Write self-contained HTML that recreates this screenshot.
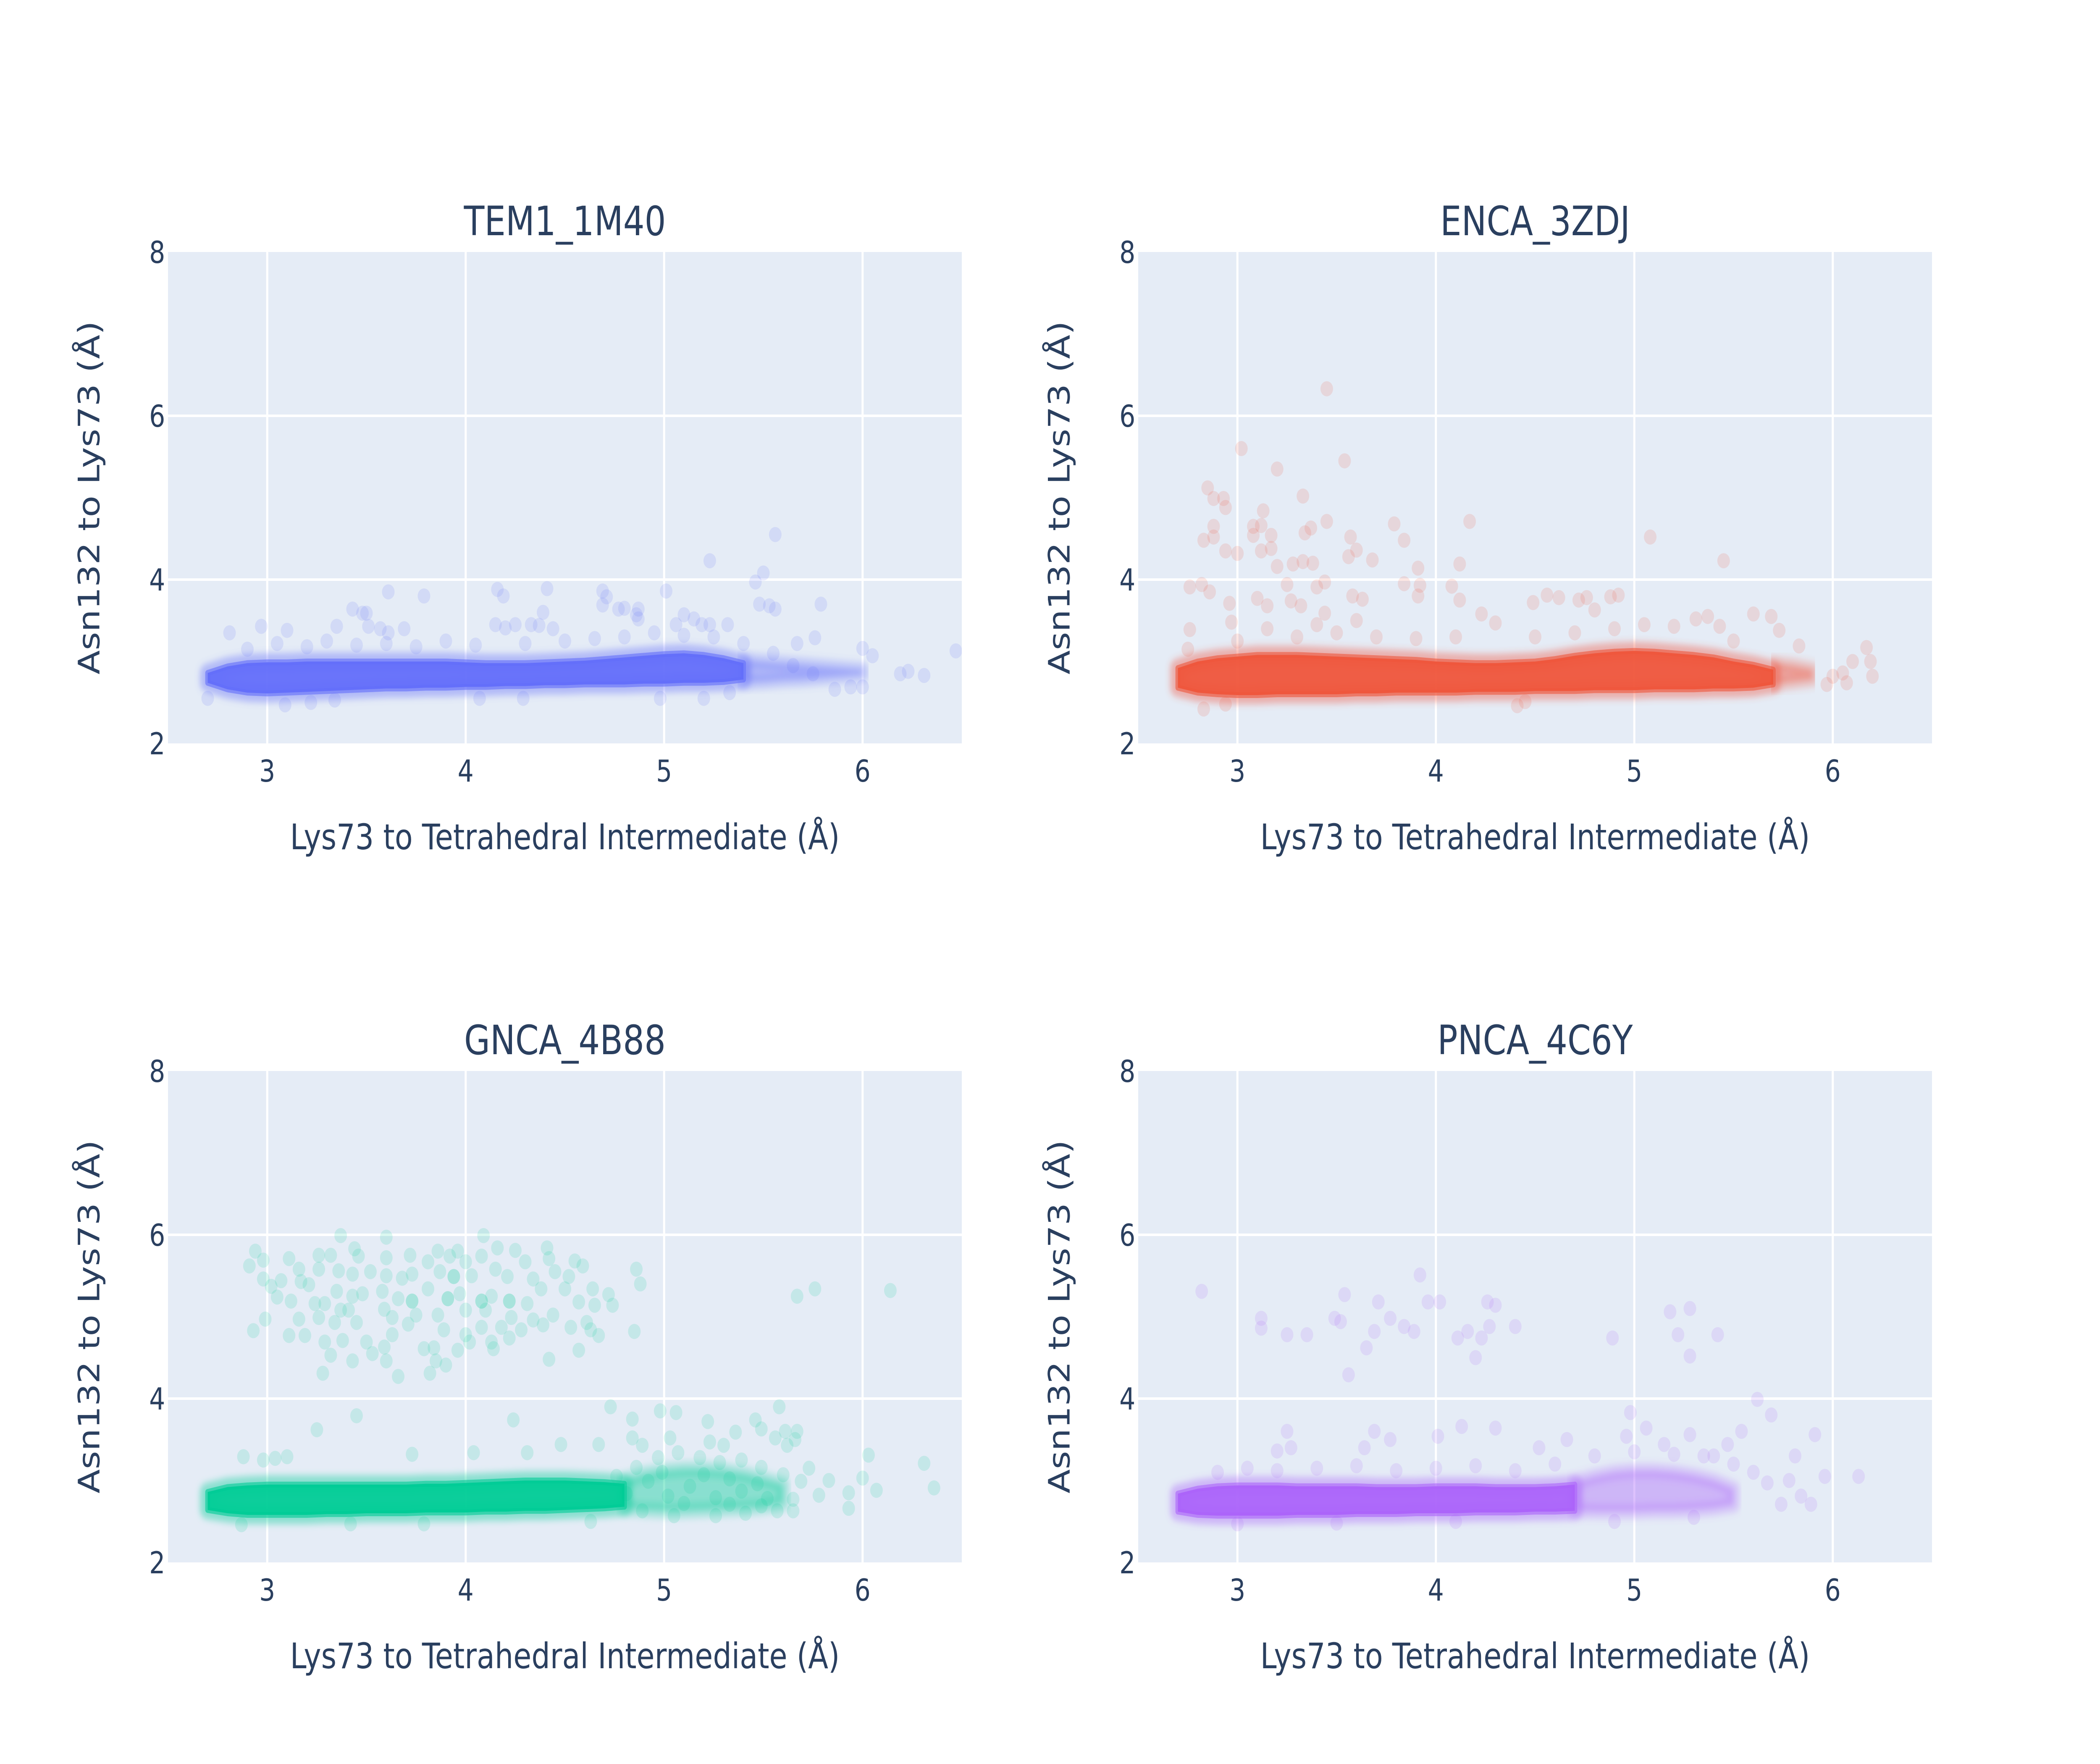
<!DOCTYPE html>
<html>
<head>
<meta charset="utf-8">
<style>
html,body{margin:0;padding:0;background:#fff;width:100%;height:100%;overflow:hidden;}
svg{display:block;width:100vw;height:100vh;}
text{font-family:"DejaVu Sans","Liberation Sans",sans-serif;fill:#2a3f5f;}
</style>
</head>
<body>
<svg id="chart" viewBox="0 0 6000 4200" preserveAspectRatio="none" xmlns="http://www.w3.org/2000/svg">
<defs>
<filter id="soft" x="-5%" y="-50%" width="110%" height="200%"><feGaussianBlur stdDeviation="8"/></filter>
</defs>
<rect x="0" y="0" width="6000" height="4200" fill="#ffffff"/>
</svg>
<script>
// ---------- shared axis data ----------
const xTickValues = [3, 4, 5, 6];
const yTickValues = [2, 4, 6, 8];
const xRange = [2.5, 6.5];
const yRange = [2, 8];
const panelTitles = ["TEM1_1M40", "ENCA_3ZDJ", "GNCA_4B88", "PNCA_4C6Y"];
const xAxisTitle = "Lys73 to Tetrahedral Intermediate (Å)";
const yAxisTitle = "Asn132 to Lys73 (Å)";

// ---------- TEM1_1M40 ----------
const tem1BandX = [2.7,2.8,2.9,3.0,3.1,3.2,3.3,3.4,3.5,3.6,3.7,3.8,3.9,4.0,4.1,4.2,4.3,4.4,4.5,4.6,4.7,4.8,4.9,5.0,5.1,5.2,5.3,5.4];
const tem1BandLow = [2.74,2.66,2.62,2.61,2.62,2.63,2.64,2.65,2.66,2.67,2.67,2.68,2.68,2.69,2.69,2.70,2.70,2.71,2.71,2.72,2.72,2.72,2.73,2.73,2.74,2.74,2.75,2.78];
const tem1BandHigh = [2.86,2.94,2.98,2.99,2.99,3.0,3.0,3.0,3.0,3.0,3.0,3.0,3.0,2.99,2.98,2.98,2.98,2.99,3.0,3.01,3.03,3.05,3.07,3.09,3.1,3.08,3.04,2.98];
const tem1TailX = [5.4,5.5,5.6,5.7,5.8,5.9,6.0];
const tem1TailLow = [2.74,2.75,2.77,2.78,2.8,2.82,2.84];
const tem1TailHigh = [3.02,3.0,2.98,2.96,2.94,2.92,2.9];
const tem1X = [5.56,5.23,5.50,5.46,3.61,3.79,4.16,4.19,4.41,4.69,4.71,5.01,5.48,5.53,5.56,5.79,3.43,3.48,3.50,4.39,4.69,4.77,4.80,4.87,6.47,6.31,6.23,6.19,6.0,6.05,6.0,5.94,5.86,2.81,2.97,3.1,3.35,3.51,3.57,3.61,3.69,4.15,4.2,4.25,4.33,4.37,4.44,4.86,4.87,5.06,5.1,5.15,5.19,5.23,5.32,5.67,5.76,2.70,3.09,3.22,3.34,4.07,4.29,4.98,5.2,5.33,2.9,3.05,3.2,3.3,3.45,3.6,3.75,3.9,4.05,4.3,4.5,4.65,4.8,4.95,5.1,5.25,5.4,5.55,5.65,5.75];
const tem1Y = [4.55,4.23,4.08,3.97,3.85,3.80,3.88,3.80,3.89,3.86,3.79,3.86,3.70,3.68,3.64,3.70,3.64,3.59,3.59,3.60,3.69,3.64,3.65,3.64,3.13,2.83,2.88,2.85,3.16,3.07,2.69,2.69,2.66,3.35,3.43,3.38,3.43,3.43,3.40,3.35,3.40,3.45,3.41,3.45,3.45,3.44,3.40,3.57,3.52,3.45,3.57,3.52,3.45,3.45,3.45,3.22,3.29,2.55,2.47,2.50,2.53,2.55,2.55,2.55,2.55,2.62,3.15,3.22,3.18,3.25,3.2,3.22,3.18,3.25,3.2,3.22,3.25,3.28,3.3,3.35,3.32,3.3,3.22,3.1,2.95,2.85];

// ---------- ENCA_3ZDJ ----------
const encaBandX = [2.7,2.8,2.9,3.0,3.1,3.2,3.3,3.4,3.5,3.6,3.7,3.8,3.9,4.0,4.1,4.2,4.3,4.4,4.5,4.6,4.7,4.8,4.9,5.0,5.1,5.2,5.3,5.4,5.5,5.6,5.7];
const encaBandLow = [2.68,2.62,2.6,2.59,2.59,2.6,2.6,2.6,2.6,2.61,2.61,2.62,2.62,2.62,2.62,2.63,2.63,2.63,2.64,2.64,2.64,2.65,2.65,2.65,2.66,2.66,2.66,2.67,2.67,2.68,2.72];
const encaBandHigh = [2.92,3.0,3.04,3.06,3.08,3.08,3.08,3.07,3.06,3.05,3.04,3.03,3.02,3.0,2.99,2.98,2.98,2.99,3.0,3.03,3.07,3.1,3.12,3.13,3.12,3.1,3.08,3.05,3.0,2.96,2.9];
const encaTailX = [5.7,5.8,5.9];
const encaTailLow = [2.72,2.75,2.78];
const encaTailHigh = [2.98,2.95,2.9];
const encaX = [3.45,3.02,3.54,3.20,2.85,2.88,2.93,2.94,3.33,3.13,2.88,3.08,3.12,3.45,3.79,4.17,2.83,2.88,3.08,3.17,3.34,3.37,3.57,3.84,5.08,5.45,2.94,3.0,3.12,3.17,3.6,3.56,3.68,4.12,3.91,4.08,4.12,3.92,3.91,3.84,2.76,2.82,2.86,3.2,3.28,3.33,3.38,3.25,3.4,3.44,3.58,3.63,3.10,3.15,3.27,3.32,3.44,2.96,2.97,2.76,4.49,4.56,4.62,4.72,4.76,4.88,4.92,4.8,5.6,5.69,5.73,5.83,6.17,6.19,6.2,6.1,6.07,5.97,6.05,6.0,4.23,4.3,5.37,5.43,5.2,5.31,4.41,4.45,2.83,2.94,3.3,3.5,3.7,3.9,4.1,4.5,4.7,4.9,5.05,5.5,2.75,3.0,3.15,3.6,3.4];
const encaY = [6.33,5.6,5.45,5.35,5.12,4.99,4.99,4.88,5.02,4.84,4.65,4.65,4.66,4.71,4.68,4.71,4.48,4.52,4.54,4.54,4.57,4.63,4.52,4.48,4.52,4.23,4.35,4.32,4.35,4.38,4.36,4.28,4.24,4.19,4.14,3.92,3.75,3.93,3.80,3.95,3.91,3.94,3.85,4.16,4.19,4.22,4.20,3.94,3.91,3.97,3.80,3.76,3.77,3.68,3.74,3.68,3.59,3.71,3.48,3.39,3.72,3.81,3.78,3.75,3.78,3.79,3.81,3.63,3.58,3.55,3.38,3.19,3.17,3.0,2.82,3.0,2.74,2.72,2.86,2.82,3.58,3.47,3.55,3.43,3.43,3.52,2.46,2.51,2.42,2.48,3.3,3.35,3.3,3.28,3.3,3.3,3.35,3.4,3.45,3.25,3.15,3.25,3.4,3.5,3.45];

// ---------- GNCA_4B88 ----------
const gncaBandX = [2.7,2.8,2.9,3.0,3.1,3.2,3.3,3.4,3.5,3.6,3.7,3.8,3.9,4.0,4.1,4.2,4.3,4.4,4.5,4.6,4.7,4.8];
const gncaBandLow = [2.64,2.6,2.58,2.58,2.58,2.58,2.59,2.59,2.6,2.6,2.6,2.61,2.61,2.61,2.62,2.62,2.63,2.63,2.64,2.65,2.66,2.68];
const gncaBandHigh = [2.86,2.92,2.94,2.95,2.95,2.95,2.95,2.95,2.95,2.95,2.95,2.96,2.96,2.97,2.98,2.99,3.0,3.0,3.0,2.99,2.98,2.96];
const gncaTailX = [4.8,4.9,5.0,5.1,5.2,5.3,5.4,5.5,5.6];
const gncaTailLow = [2.66,2.64,2.63,2.63,2.64,2.65,2.66,2.68,2.72];
const gncaTailHigh = [3.0,3.08,3.12,3.14,3.14,3.12,3.08,3.02,2.95];
const gncaX = [3.37,3.60,4.09,2.94,2.91,2.98,3.11,3.26,3.32,3.44,3.46,3.60,3.72,3.81,3.86,3.92,3.96,4.0,4.08,4.16,4.25,4.30,4.41,4.42,4.55,4.59,4.86,4.88,3.16,3.26,3.36,3.43,3.52,3.60,3.68,3.73,3.87,3.94,4.03,4.15,4.21,4.34,4.45,4.52,2.98,3.07,3.17,3.21,3.35,3.43,3.48,3.58,3.66,3.73,3.81,3.91,3.97,4.08,4.13,4.22,4.31,4.38,4.50,4.64,4.72,4.74,4.65,4.57,3.02,3.05,3.12,3.24,3.29,3.37,3.41,3.59,3.63,3.75,3.86,4.0,4.10,4.23,4.34,4.44,4.61,2.99,3.16,3.26,3.34,3.45,3.71,3.89,4.0,4.08,4.18,4.28,4.39,4.53,4.63,4.67,4.85,2.93,3.11,3.19,3.29,3.38,3.50,3.59,3.63,3.79,3.84,3.96,4.02,4.13,4.22,4.14,4.57,3.32,3.43,3.53,3.60,3.85,3.90,4.42,3.28,3.66,3.82,5.67,5.76,6.14,3.94,3.73,3.91,4.08,4.22,
4.73,4.84,4.98,5.06,5.22,5.46,5.58,5.36,5.49,5.56,5.61,5.67,5.66,5.62,4.84,4.89,5.03,5.23,5.30,4.67,4.48,4.24,3.45,3.25,2.88,2.98,3.04,3.10,3.73,4.04,4.31,6.03,6.31,6.36,6.07,6.0,5.93,5.93,5.83,5.78,5.73,5.69,5.65,5.52,5.39,5.26,5.13,5.02,4.92,4.81,5.57,5.41,5.26,5.05,4.89,4.63,3.79,2.87,3.42,4.97,5.07,5.18,5.28,5.39,5.49,4.99,5.2,5.33,5.47,5.6,4.86,4.76,5.1,5.33,5.49,5.65];
const gncaY = [5.99,5.97,5.99,5.80,5.62,5.69,5.71,5.75,5.75,5.83,5.74,5.72,5.75,5.67,5.80,5.74,5.80,5.67,5.74,5.84,5.81,5.67,5.84,5.71,5.68,5.62,5.58,5.40,5.58,5.58,5.56,5.52,5.55,5.50,5.47,5.52,5.55,5.49,5.50,5.58,5.49,5.46,5.55,5.49,5.46,5.44,5.43,5.39,5.31,5.25,5.28,5.31,5.22,5.19,5.34,5.22,5.28,5.19,5.25,5.19,5.16,5.34,5.34,5.34,5.27,5.14,5.14,5.18,5.37,5.24,5.19,5.16,5.16,5.08,5.08,5.09,4.99,5.02,5.02,5.08,5.08,4.99,4.96,5.02,4.93,4.97,4.97,4.99,4.93,4.93,4.91,4.84,4.78,4.87,4.87,4.84,4.90,4.87,4.84,4.77,4.82,4.83,4.77,4.77,4.69,4.71,4.69,4.63,4.78,4.61,4.62,4.59,4.69,4.69,4.74,4.61,4.59,4.53,4.46,4.55,4.46,4.46,4.41,4.48,4.31,4.27,4.31,5.25,5.34,5.32,5.49,5.19,5.22,5.19,5.19,
3.90,3.75,3.85,3.83,3.72,3.74,3.90,3.59,3.63,3.52,3.60,3.60,3.50,3.43,3.52,3.43,3.52,3.47,3.43,3.44,3.44,3.74,3.79,3.62,3.29,3.25,3.27,3.29,3.32,3.34,3.34,3.31,3.21,2.91,2.88,3.03,2.85,2.66,3.0,2.82,3.15,2.99,2.77,2.78,2.87,2.79,2.93,2.81,2.99,2.84,2.63,2.60,2.57,2.57,2.63,2.50,2.47,2.46,2.47,3.28,3.34,3.28,3.22,3.25,3.16,3.10,3.07,3.02,2.96,3.07,3.16,3.05,2.72,2.71,2.69,2.63];

// ---------- PNCA_4C6Y ----------
const pncaBandX = [2.7,2.8,2.9,3.0,3.1,3.2,3.3,3.4,3.5,3.6,3.7,3.8,3.9,4.0,4.1,4.2,4.3,4.4,4.5,4.6,4.7];
const pncaBandLow = [2.62,2.58,2.57,2.57,2.57,2.57,2.58,2.58,2.58,2.59,2.59,2.59,2.6,2.6,2.6,2.61,2.61,2.61,2.62,2.62,2.63];
const pncaBandHigh = [2.84,2.9,2.93,2.94,2.94,2.94,2.93,2.93,2.93,2.93,2.92,2.92,2.92,2.93,2.93,2.93,2.92,2.92,2.92,2.93,2.95];
const pncaTailX = [4.7,4.8,4.9,5.0,5.1,5.2,5.3,5.4,5.5];
const pncaTailLow = [2.63,2.62,2.62,2.62,2.63,2.63,2.64,2.66,2.7];
const pncaTailHigh = [2.98,3.05,3.1,3.12,3.12,3.1,3.06,3.0,2.9];
const pncaX = [2.82,3.92,3.96,4.02,3.54,3.71,3.77,3.84,3.89,3.69,3.65,3.56,3.49,3.52,3.12,3.12,3.25,3.35,4.26,4.3,4.27,4.23,4.2,4.16,4.11,4.4,5.18,5.28,5.28,5.22,5.42,4.89,4.98,5.62,5.69,5.91,5.54,5.47,5.4,5.96,6.13,5.81,5.78,5.84,5.74,5.89,5.67,3.25,3.27,3.69,3.77,4.01,4.13,4.3,4.66,4.96,5.06,5.15,5.28,3.64,4.52,3.2,2.9,3.05,3.2,3.4,3.6,3.8,4.0,4.2,4.4,4.6,4.8,5.0,5.2,5.35,5.5,5.6,3.0,3.5,4.1,4.9,5.3];
const pncaY = [5.31,5.51,5.18,5.18,5.27,5.18,4.98,4.88,4.82,4.82,4.62,4.29,4.98,4.94,4.98,4.86,4.78,4.78,5.18,5.14,4.88,4.74,4.5,4.82,4.74,4.88,5.06,5.1,4.52,4.78,4.78,4.74,3.83,3.99,3.8,3.56,3.6,3.44,3.3,3.05,3.05,3.3,3.0,2.81,2.71,2.71,2.97,3.6,3.4,3.6,3.5,3.54,3.66,3.64,3.5,3.54,3.64,3.44,3.56,3.4,3.4,3.36,3.1,3.15,3.12,3.15,3.18,3.12,3.15,3.18,3.12,3.2,3.3,3.35,3.32,3.3,3.2,3.1,2.47,2.48,2.5,2.5,2.55];

// ---------- rendering ----------
const NS = "http://www.w3.org/2000/svg";
const svg = document.getElementById("chart");
const panels = [
  {name:"tem1", color:"#636efa", left:480, top:600, bandX:tem1BandX, bandLow:tem1BandLow, bandHigh:tem1BandHigh, tailX:tem1TailX, tailLow:tem1TailLow, tailHigh:tem1TailHigh, px:tem1X, py:tem1Y},
  {name:"enca", color:"#EF553B", left:3252, top:600, bandX:encaBandX, bandLow:encaBandLow, bandHigh:encaBandHigh, tailX:encaTailX, tailLow:encaTailLow, tailHigh:encaTailHigh, px:encaX, py:encaY},
  {name:"gnca", color:"#00cc96", left:480, top:2550, bandX:gncaBandX, bandLow:gncaBandLow, bandHigh:gncaBandHigh, tailX:gncaTailX, tailLow:gncaTailLow, tailHigh:gncaTailHigh, px:gncaX, py:gncaY},
  {name:"pnca", color:"#ab63fa", left:3252, top:2550, bandX:pncaBandX, bandLow:pncaBandLow, bandHigh:pncaBandHigh, tailX:pncaTailX, tailLow:pncaTailLow, tailHigh:pncaTailHigh, px:pncaX, py:pncaY}
];
const PW = 2268, PH = 1170;

function mk(tag, attrs, parent){
  const e = document.createElementNS(NS, tag);
  for (const k in attrs) e.setAttribute(k, attrs[k]);
  parent.appendChild(e);
  return e;
}

panels.forEach((p, i) => {
  const sx = v => p.left + (v - xRange[0]) / (xRange[1] - xRange[0]) * PW;
  const sy = v => p.top + PH - (v - yRange[0]) / (yRange[1] - yRange[0]) * PH;
  const g = mk("g", {}, svg);
  
  

  const bg = mk("rect", {x:p.left, y:p.top, width:PW, height:PH, fill:"#E5ECF6"}, g);
  
  

  xTickValues.forEach(v => {
    const l = mk("line", {x1:sx(v), x2:sx(v), y1:p.top, y2:p.top+PH, stroke:"#ffffff", "stroke-width":6}, g);
    
    
    const t = mk("text", {x:sx(v), y:p.top+PH+91, "text-anchor":"middle", "font-size":72}, g);
    t.textContent = v;
    
    
  });
  yTickValues.forEach(v => {
    if (v !== yRange[0] && v !== yRange[1]) {
      const l = mk("line", {x1:p.left, x2:p.left+PW, y1:sy(v), y2:sy(v), stroke:"#ffffff", "stroke-width":6}, g);
      
      
    }
    const t = mk("text", {x:p.left-8, y:sy(v)+26, "text-anchor":"end", "font-size":72}, g);
    t.textContent = v;
    
    
  });

  const clipId = "clip" + i;
  const cp = mk("clipPath", {id:clipId}, g);
  mk("rect", {x:p.left, y:p.top, width:PW, height:PH}, cp);
  const marks = mk("g", {"clip-path":"url(#"+clipId+")"}, g);
  
  

  function bandPath(xs, lo, hi){
    let d = "";
    xs.forEach((x, k) => { d += (k ? "L" : "M") + sx(x).toFixed(1) + "," + sy(hi[k]).toFixed(1); });
    for (let k = xs.length - 1; k >= 0; k--) d += "L" + sx(xs[k]).toFixed(1) + "," + sy(lo[k]).toFixed(1);
    return d + "Z";
  }
  const tailD = bandPath(p.tailX, p.tailLow, p.tailHigh);
  const tailEdge = mk("path", {d:tailD, fill:p.color, "fill-opacity":0.4, stroke:p.color, "stroke-opacity":0.25, "stroke-width":36, "stroke-linejoin":"round", filter:"url(#soft)"}, marks);
  
  
  const coreD = bandPath(p.bandX, p.bandLow, p.bandHigh);
  const fringe = mk("path", {d:coreD, fill:"none", stroke:p.color, "stroke-opacity":0.4, "stroke-width":44, "stroke-linejoin":"round", filter:"url(#soft)"}, marks);
  
  
  const core = mk("path", {d:coreD, fill:p.color, "fill-opacity":0.95, stroke:p.color, "stroke-opacity":0.6, "stroke-width":14, "stroke-linejoin":"round"}, marks);
  
  
  p.px.forEach((x, k) => {
    const c = mk("circle", {cx:sx(x).toFixed(1), cy:sy(p.py[k]).toFixed(1), r:18, fill:p.color, "fill-opacity":0.14}, marks);
    
    
  });

  const title = mk("text", {x:p.left+PW/2, y:p.top-40, "text-anchor":"middle", "font-size":96}, g);
  title.textContent = panelTitles[i];
  
  

  const xt = mk("text", {x:p.left+PW/2, y:p.top+PH+252, "text-anchor":"middle", "font-size":84}, g);
  xt.textContent = xAxisTitle;
  
  

  const yx = p.left - 196, yy = p.top + PH/2;
  const yt = mk("text", {x:yx, y:yy, "text-anchor":"middle", "font-size":84, transform:"rotate(-90 "+yx+" "+yy+")"}, g);
  yt.textContent = yAxisTitle;
  
  
});
</script>
</body>
</html>
